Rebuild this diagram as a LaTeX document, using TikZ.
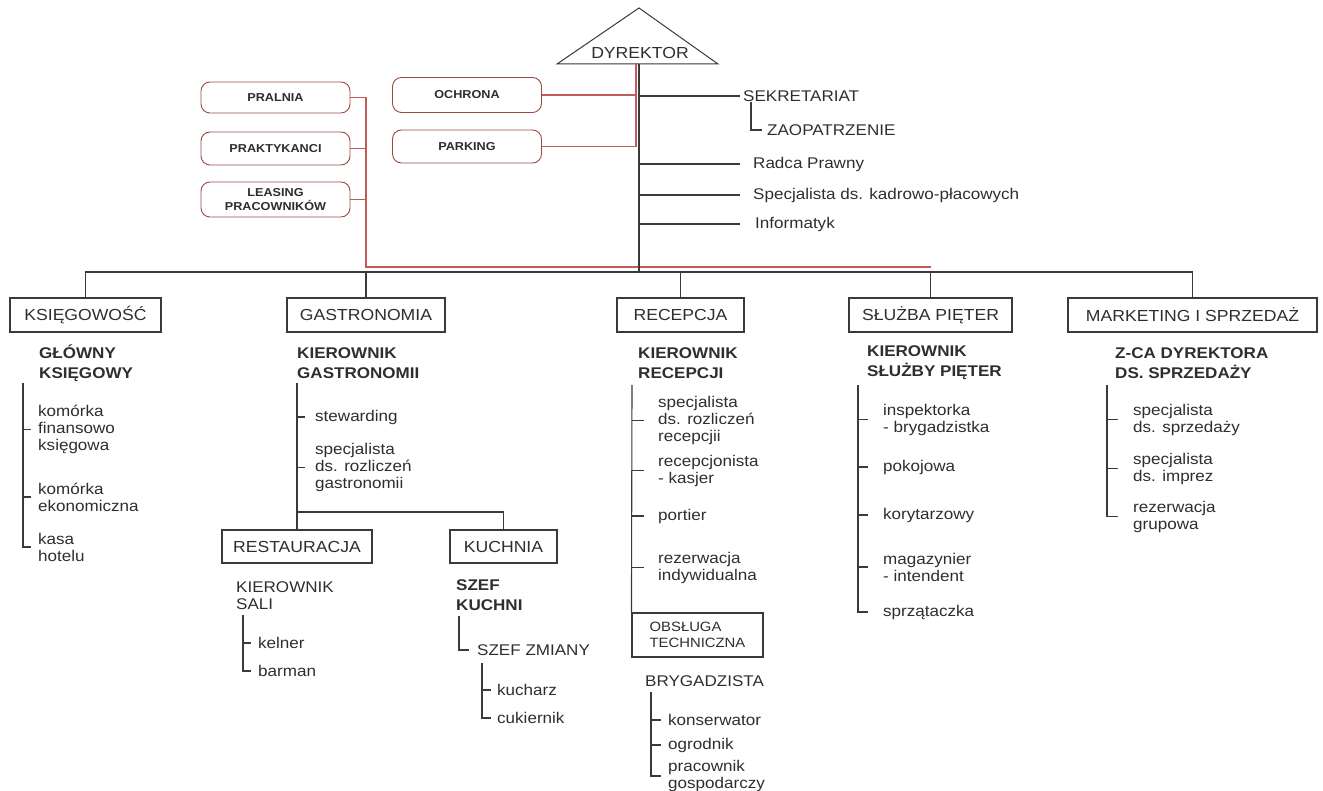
\documentclass[tikz,border=0pt]{standalone}
\usepackage{fontspec}
\newfontfamily\ls{Liberation Sans}[FakeStretch=1.1]
\definecolor{ink}{HTML}{2E2E2E}
\definecolor{ln}{HTML}{3A3A3A}
\definecolor{rl}{HTML}{C25A55}
\definecolor{rb}{HTML}{9A4A44}
\begin{document}
\begin{tikzpicture}[x=1pt,y=-1pt,
  txt/.style={font=\ls\fontsize{15.5}{17}\selectfont, text=ink, inner sep=0pt, anchor=west, align=left},
  btxt/.style={font=\ls\bfseries\fontsize{15.5}{20}\selectfont, text=ink, inner sep=0pt, anchor=west, align=left},
  dept/.style={draw=ln, line width=1.1pt, font=\ls\fontsize{16}{18}\selectfont, text=ink, inner sep=0pt, minimum height=34pt},
  rbox/.style={draw=rb, line width=0.9pt, rounded corners=9pt, font=\ls\bfseries\fontsize{11.5}{14}\selectfont, text=ink, inner sep=0pt, minimum width=149pt, align=center},
  bl/.style={draw=ln, line width=1.1pt},
  rd/.style={draw=rl, line width=1.1pt},
]
\useasboundingbox (0,0) rectangle (1323,791);

% ---- director
\coordinate (apex) at (639,8);
\coordinate (tl) at (557,64);
\coordinate (tr) at (718,64);
\draw[ln, line width=1pt] (apex) -- (tl) -- (tr) -- cycle;
\node[font=\ls\fontsize{16}{18}\selectfont, text=ink, inner sep=0pt] (dyr) at (640,53) {DYREKTOR};
\coordinate (top) at (639,64);
\coordinate (hub) at (639,272);

% ---- red boxes
\node[rbox, minimum height=31pt] (pral) at (275.5,97.5) {PRALNIA};
\node[rbox, minimum height=33pt] (prak) at (275.5,148.5) {PRAKTYKANCI};
\node[rbox, minimum height=35pt] (leas) at (275.5,199.5) {LEASING\\PRACOWNIKÓW};
\node[rbox, minimum height=35pt] (ochr) at (467,95) {OCHRONA};
\node[rbox, minimum height=33pt] (park) at (467,146.5) {PARKING};

% ---- department boxes
\node[dept, minimum width=151pt] (ksi) at (85.5,315) {KSIĘGOWOŚĆ};
\node[dept, minimum width=158pt] (gas) at (366,315) {GASTRONOMIA};
\node[dept, minimum width=127pt] (rec) at (680.5,315) {RECEPCJA};
\node[dept, minimum width=163pt] (slu) at (930.5,315) {SŁUŻBA PIĘTER};
\node[dept, minimum width=249pt] (mar) at (1192.5,315) {MARKETING I SPRZEDAŻ};

% ---- red connectors
\coordinate (rv) at (366,267);
\coordinate (rv2) at (636,64);
\draw[rd] (pral.east) -| (rv) -- (rv -| slu.north);
\draw[rd] (prak.east) -- (prak.east -| rv);
\draw[rd] (leas.east) -- (leas.east -| rv);
\draw[rd] (ochr.east) -- (ochr.east -| rv2);
\draw[rd] (park.east) -| (rv2);

% ---- spine and bar
\draw[bl] (top) -- (hub);
\draw[bl] (ksi.north) -- (ksi.north |- hub) -- (mar.north |- hub) -- (mar.north);
\draw[bl] (gas.north) -- (gas.north |- hub);
\draw[bl] (rec.north) -- (rec.north |- hub);
\draw[bl] (slu.north) -- (slu.north |- hub);

% ---- staff
\node[txt] (sek) at (743,96) {SEKRETARIAT};
\node[txt] (zao) at (767,130) {ZAOPATRZENIE};
\node[txt] (rad) at (753,164) {Radca Prawny};
\node[txt] (spk) at (753,195) {Specjalista ds. kadrowo-płacowych};
\node[txt] (inf) at (755,224) {Informatyk};
\draw[bl] (sek.west -| top) -- ([xshift=-3pt]sek.west);
\draw[bl] ([xshift=8pt]sek.south west) |- ([xshift=-5pt]zao.west);
\draw[bl] (rad.west -| top) -- ([xshift=-13pt]rad.west);
\draw[bl] (spk.west -| top) -- ([xshift=-13pt]spk.west);
\draw[bl] (inf.west -| top) -- ([xshift=-15pt]inf.west);

% ---- column 1
\node[btxt] (gk) at (39,363) {GŁÓWNY\\KSIĘGOWY};
\coordinate (s1) at (23,383);
\node[txt] (k1) at (38,429.5) {komórka\\finansowo\\księgowa};
\node[txt] (k2) at (38,497) {komórka\\ekonomiczna};
\node[txt] (k3) at (38,547) {kasa\\hotelu};
\draw[bl] (s1) |- ([xshift=-7pt]k3.west);
\draw[bl] (s1 |- k1.west) -- ([xshift=-7pt]k1.west);
\draw[bl] (s1 |- k2.west) -- ([xshift=-7pt]k2.west);

% ---- column 2
\node[btxt] (kg) at (297,363) {KIEROWNIK\\GASTRONOMII};
\coordinate (s2) at (297,383);
\node[txt] (g1) at (315,417) {stewarding};
\node[txt] (g2) at (315,467.5) {specjalista\\ds. rozliczeń\\gastronomii};
\node[dept, minimum width=150pt, minimum height=33pt] (res) at (297,546.5) {RESTAURACJA};
\node[dept, minimum width=107pt, minimum height=33pt] (kuc) at (503.5,546.5) {KUCHNIA};
\coordinate (j2) at (297,512);
\draw[bl] (s2) -- (res.north);
\draw[bl] (j2) -| (kuc.north);
\draw[bl] (s2 |- g1.west) -- ([xshift=-10pt]g1.west);
\draw[bl] (s2 |- g2.west) -- ([xshift=-10pt]g2.west);

\node[txt] (ks) at (236,595.5) {KIEROWNIK\\SALI};
\coordinate (s3) at (243,615);
\node[txt] (kel) at (258,643) {kelner};
\node[txt] (bar) at (258,671) {barman};
\draw[bl] (s3) |- ([xshift=-7pt]bar.west);
\draw[bl] (s3 |- kel.west) -- ([xshift=-7pt]kel.west);

\node[btxt] (sk) at (456,595.5) {SZEF\\KUCHNI};
\coordinate (s4) at (459,616);
\node[txt] (sz) at (477,650) {SZEF ZMIANY};
\draw[bl] (s4) |- ([xshift=-8pt]sz.west);
\coordinate (s5) at (482,663);
\node[txt] (kuch) at (497,690) {kucharz};
\node[txt] (cuk) at (497,718) {cukiernik};
\draw[bl] (s5) |- ([xshift=-6pt]cuk.west);
\draw[bl] (s5 |- kuch.west) -- ([xshift=-6pt]kuch.west);

% ---- column 3
\node[btxt] (kr) at (638,363) {KIEROWNIK\\RECEPCJI};
\coordinate (s6) at (632,385);
\node[txt] (r1) at (658,420.5) {specjalista\\ds. rozliczeń\\recepcjii};
\node[txt] (r2) at (658,470.5) {recepcjonista\\- kasjer};
\node[txt] (r3) at (658,516) {portier};
\node[txt] (r4) at (658,567.5) {rezerwacja\\indywidualna};
\node[draw=ln, line width=1.1pt, inner sep=0pt, minimum width=131pt, minimum height=44pt, align=left, font=\ls\fontsize{13.5}{16}\selectfont, text=ink] (obs) at (697.5,635) {OBSŁUGA\\TECHNICZNA};
\draw[bl] (s6) -- (obs.north west);
\draw[bl] (s6 |- r1.west) -- ([xshift=-14pt]r1.west);
\draw[bl] (s6 |- r2.west) -- ([xshift=-14pt]r2.west);
\draw[bl] (s6 |- r3.west) -- ([xshift=-14pt]r3.west);
\draw[bl] (s6 |- r4.west) -- ([xshift=-14pt]r4.west);
\node[txt] (bry) at (645,681) {BRYGADZISTA};
\coordinate (s7) at (651,692);
\node[txt] (b1) at (668,720) {konserwator};
\node[txt] (b2) at (668,745) {ogrodnik};
\node[txt] (b3) at (668,776) {pracownik\\gospodarczy};
\draw[bl] (s7) |- ([xshift=-7pt]b3.west);
\draw[bl] (s7 |- b1.west) -- ([xshift=-7pt]b1.west);
\draw[bl] (s7 |- b2.west) -- ([xshift=-7pt]b2.west);

% ---- column 4
\node[btxt] (kp) at (867,363) {KIEROWNIK\\SŁUŻBY PIĘTER};
\coordinate (s8) at (858,385);
\node[txt] (p1) at (883,419.5) {inspektorka\\- brygadzistka};
\node[txt] (p2) at (883,467) {pokojowa};
\node[txt] (p3) at (883,515) {korytarzowy};
\node[txt] (p4) at (883,567) {magazynier\\- intendent};
\node[txt] (p5) at (883,612) {sprzątaczka};
\draw[bl] (s8) |- ([xshift=-15pt]p5.west);
\draw[bl] (s8 |- p1.west) -- ([xshift=-15pt]p1.west);
\draw[bl] (s8 |- p2.west) -- ([xshift=-15pt]p2.west);
\draw[bl] (s8 |- p3.west) -- ([xshift=-15pt]p3.west);
\draw[bl] (s8 |- p4.west) -- ([xshift=-15pt]p4.west);

% ---- column 5
\node[btxt] (zc) at (1115,363) {Z-CA DYREKTORA\\DS. SPRZEDAŻY};
\coordinate (s9) at (1107,385);
\node[txt] (m1) at (1133,419.5) {specjalista\\ds. sprzedaży};
\node[txt] (m2) at (1133,468.5) {specjalista\\ds. imprez};
\node[txt] (m3) at (1133,516.5) {rezerwacja\\grupowa};
\draw[bl] (s9) |- ([xshift=-15pt]m3.west);
\draw[bl] (s9 |- m1.west) -- ([xshift=-15pt]m1.west);
\draw[bl] (s9 |- m2.west) -- ([xshift=-15pt]m2.west);
\end{tikzpicture}
\end{document}
